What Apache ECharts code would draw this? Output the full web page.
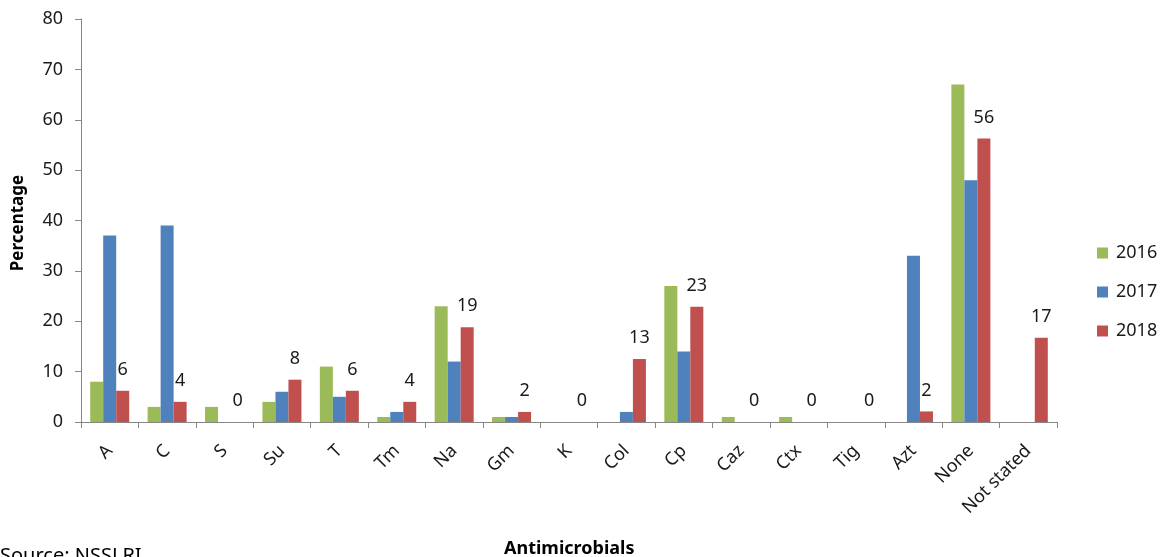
<!DOCTYPE html>
<html>
<head>
<meta charset="utf-8">
<script src="https://cdn.jsdelivr.net/npm/echarts@6/dist/echarts.min.js"></script>
<style>
html,body{margin:0;padding:0;background:#fff;}
#chart{width:1166px;height:557px;}
</style>
</head>
<body>
<div id="chart"></div>
<script>
const categories = ['A','C','S','Su','T','Tm','Na','Gm','K','Col','Cp','Caz','Ctx','Tig','Azt','None','Not stated'];
const years = ['2016','2017','2018'];
const values2016 = [8, 3, 3, 4, 11, 1, 23, 1, 0, 0, 27, 1, 1, 0, 0, 67, 0];
const values2017 = [37, 39, 0, 6, 5, 2, 12, 1, 0, 2, 14, 0, 0, 0, 33, 48, 0];
const values2018 = [6.2, 4, 0, 8.4, 6.2, 4, 18.8, 2, 0, 12.5, 22.9, 0, 0, 0, 2.1, 56.3, 16.7];
const yTicks = [0, 10, 20, 30, 40, 50, 60, 70, 80];

const FONT = 'Noto Sans';
const colors = ['#9BBB59', '#4F81BD', '#C0504D'];
const chart = echarts.init(document.getElementById('chart'));

function bar(name, data, idx, withLabel) {
  return {
    name: name,
    type: 'bar',
    data: data,
    barWidth: 13,
    barGap: '0%',
    itemStyle: { color: colors[idx] },
    label: withLabel ? {
      show: true,
      position: 'top',
      distance: 12,
      fontFamily: FONT,
      fontSize: 18,
      color: '#1a1a1a',
      formatter: p => Math.round(p.value)
    } : { show: false }
  };
}

chart.setOption({
  animation: false,
  textStyle: { fontFamily: FONT },
  grid: { left: 81, right: 109, top: 19, bottom: 135, containLabel: false },
  legend: {
    orient: 'vertical',
    left: 1092,
    top: 239,
    itemWidth: 11,
    itemHeight: 11,
    itemGap: 21,
    icon: 'rect',
    textStyle: { fontFamily: FONT, fontSize: 18, color: '#1a1a1a', padding: [0, 0, 0, 3] },
    data: years
  },
  xAxis: {
    type: 'category',
    data: categories,
    axisLine: { lineStyle: { color: '#868686', width: 1 } },
    axisTick: { show: true, length: 6, lineStyle: { color: '#868686' } },
    axisLabel: { rotate: 45, margin: 26, fontFamily: FONT, fontSize: 18, color: '#1a1a1a', interval: 0 }
  },
  yAxis: {
    type: 'value',
    min: yTicks[0],
    max: yTicks[yTicks.length - 1],
    interval: 10,
    splitLine: { show: false },
    axisLine: { show: true, lineStyle: { color: '#868686', width: 1 } },
    axisTick: { show: true, length: 6, lineStyle: { color: '#868686' } },
    axisLabel: { margin: 18, fontFamily: FONT, fontSize: 18, color: '#1a1a1a' }
  },
  graphic: [
    { type: 'text', left: 504, top: 540, style: { text: 'Antimicrobials', font: 'bold 18px "Noto Sans"', fill: '#000' } },
    { type: 'text', x: 18, y: 223, rotation: Math.PI / 2, style: { text: 'Percentage', font: 'bold 17px "Noto Sans"', fill: '#000', align: 'center', verticalAlign: 'middle' } },
    { type: 'text', left: 0, top: 546, style: { text: 'Source: NSSLRI', font: '20px "Noto Sans"', fill: '#000' } }
  ],
  series: [
    bar(years[0], values2016, 0, false),
    bar(years[1], values2017, 1, false),
    bar(years[2], values2018, 2, true)
  ]
});
</script>
</body>
</html>
